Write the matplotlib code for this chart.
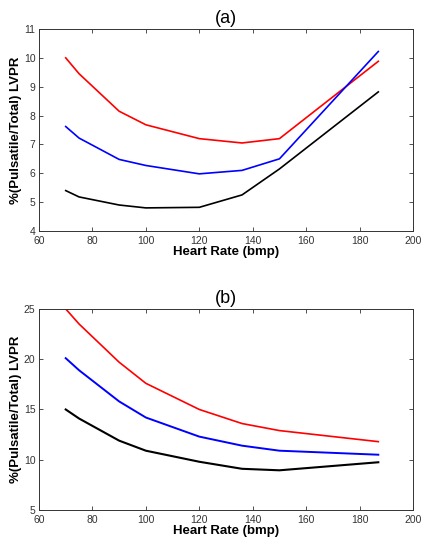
import matplotlib.pyplot as plt

plt.rcParams['font.family'] = ['Liberation Sans', 'DejaVu Sans']

# heart rate samples (bmp)
heart_rate = [70, 75, 90, 100, 120, 136, 150, 187]

# panel (a)
a_red = [10.0, 9.45, 8.15, 7.68, 7.2, 7.05, 7.2, 9.88]
a_blue = [7.62, 7.22, 6.48, 6.27, 5.98, 6.1, 6.5, 10.22]
a_black = [5.4, 5.18, 4.9, 4.8, 4.82, 5.25, 6.15, 8.82]

# panel (b)
b_red = [25.0, 23.5, 19.7, 17.6, 15.0, 13.6, 12.9, 11.8]
b_blue = [20.1, 18.9, 15.8, 14.2, 12.3, 11.4, 10.9, 10.5]
b_black = [15.0, 14.1, 11.9, 10.9, 9.8, 9.1, 8.95, 9.75]

x_ticks = [60, 80, 100, 120, 140, 160, 180, 200]
a_yticks = [4, 5, 6, 7, 8, 9, 10, 11]
b_yticks = [5, 10, 15, 20, 25]


def style_axes(ax, title, yticks):
    ax.set_xlim(60, 200)
    ax.set_xticks(x_ticks)
    ax.set_ylim(yticks[0], yticks[-1])
    ax.set_yticks(yticks)
    ax.tick_params(direction='in', top=True, right=True, labelsize=7.5,
                   length=3, width=0.6, colors='#333333')
    ax.tick_params(axis='x', pad=3.5)
    ax.tick_params(axis='y', pad=2.5)
    for s in ax.spines.values():
        s.set_linewidth(0.7)
        s.set_color('#333333')
    ax.set_title(title, fontsize=13, pad=4)
    ax.set_xlabel("Heart Rate (bmp)", fontsize=9.5, fontweight='bold', labelpad=0)
    ax.set_ylabel("%(Pulsatile/Total) LVPR", fontsize=9.5, fontweight='bold', labelpad=1)


fig = plt.figure(figsize=(4.27, 5.48), dpi=100)
ax1 = fig.add_axes([0.0913, 0.5785, 0.876, 0.3686])
ax2 = fig.add_axes([0.0913, 0.0693, 0.876, 0.367])

ax1.plot(heart_rate, a_red, color='red', lw=1.2)
ax1.plot(heart_rate, a_blue, color='blue', lw=1.2)
ax1.plot(heart_rate, a_black, color='black', lw=1.2)
style_axes(ax1, "(a)", a_yticks)

ax2.plot(heart_rate, b_red, color='red', lw=1.2)
ax2.plot(heart_rate, b_blue, color='blue', lw=1.4)
ax2.plot(heart_rate, b_black, color='black', lw=1.5)
style_axes(ax2, "(b)", b_yticks)

fig.savefig("out.png", dpi=100)
